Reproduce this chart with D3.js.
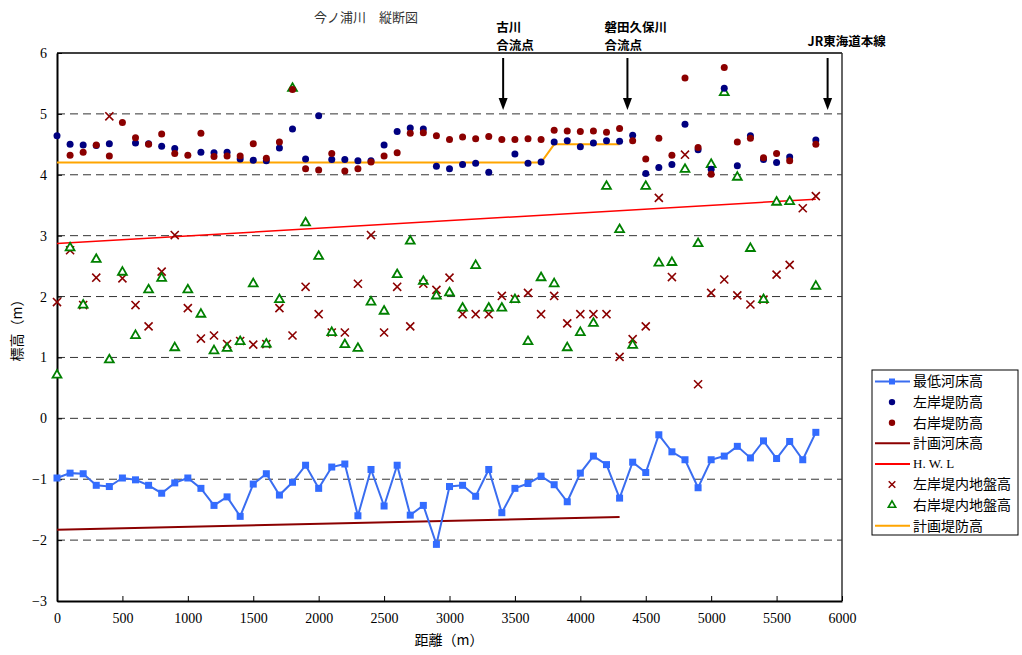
<!DOCTYPE html>
<html>
<head>
<meta charset="utf-8">
<script src="https://cdn.jsdelivr.net/npm/d3@7"></script>
<style>
  body { margin: 0; background: #fff; }
  svg text { font-family: "Liberation Serif", "Noto Sans CJK JP", serif; }
  .jp { font-family: "Noto Sans CJK JP", sans-serif; }
</style>
</head>
<body>
<div id="chart"></div>
<script>
// 距離 (m)
const distances = [0, 100, 200, 300, 400, 500, 600, 700, 800, 900,
  1000, 1100, 1200, 1300, 1400, 1500, 1600, 1700, 1800, 1900,
  2000, 2100, 2200, 2300, 2400, 2500, 2600, 2700, 2800, 2900,
  3000, 3100, 3200, 3300, 3400, 3500, 3600, 3700, 3800, 3900,
  4000, 4100, 4200, 4300, 4400, 4500, 4600, 4700, 4800, 4900,
  5000, 5100, 5200, 5300, 5400, 5500, 5600, 5700, 5800];

// 最低河床高
const bedMin = [-0.98, -0.90, -0.91, -1.10, -1.12, -0.98, -1.01, -1.10, -1.23, -1.06,
  -0.98, -1.15, -1.43, -1.29, -1.61, -1.08, -0.91, -1.26, -1.05, -0.77,
  -1.15, -0.80, -0.75, -1.60, -0.84, -1.44, -0.77, -1.59, -1.43, -2.07,
  -1.12, -1.10, -1.28, -0.84, -1.55, -1.15, -1.07, -0.95, -1.09, -1.37,
  -0.90, -0.62, -0.76, -1.31, -0.72, -0.89, -0.27, -0.55, -0.68, -1.14,
  -0.68, -0.62, -0.46, -0.65, -0.37, -0.66, -0.38, -0.68, -0.23];

// 左岸堤防高
const leftLevee = [4.64, 4.50, 4.49, 4.48, 4.51, null, 4.52, 4.51, 4.47, 4.43,
  null, 4.37, 4.36, 4.37, 4.26, 4.24, 4.23, 4.44, 4.75, 4.26,
  4.97, 4.25, 4.25, 4.23, 4.23, 4.49, 4.71, 4.77, 4.75, 4.14,
  4.10, 4.17, 4.19, 4.04, null, 4.34, 4.19, 4.21, 4.54, 4.56,
  4.46, 4.52, 4.56, 4.55, 4.65, 4.02, 4.12, 4.17, 4.83, 4.41,
  4.09, 5.42, 4.15, 4.64, 4.25, 4.20, 4.29, null, 4.57];

// 右岸堤防高
const rightLevee = [null, 4.32, 4.37, 4.49, 4.31, 4.86, 4.61, 4.50, 4.67, 4.35,
  4.32, 4.68, 4.30, 4.31, 4.31, 4.51, 4.27, 4.54, 5.40, 4.10,
  4.08, 4.35, 4.06, 4.10, 4.21, 4.31, 4.36, 4.68, 4.69, 4.64,
  4.58, 4.62, 4.59, 4.63, 4.58, 4.58, 4.59, 4.58, 4.73, 4.72,
  4.71, 4.72, 4.70, 4.76, 4.56, 4.26, 4.60, 4.32, 5.59, 4.45,
  4.01, 5.76, 4.54, 4.60, 4.28, 4.35, 4.23, null, 4.50];

// 左岸堤内地盤高
const leftInland = [1.91, 2.76, 1.86, 2.31, 4.96, 2.30, 1.86, 1.51, 2.41, 3.01,
  1.81, 1.31, 1.36, 1.22, 1.27, 1.21, 1.22, 1.81, 1.36, 2.16,
  1.71, 1.41, 1.41, 2.21, 3.01, 1.41, 2.16, 1.51, 2.21, 2.11,
  2.31, 1.71, 1.71, 1.71, 2.01, 1.96, 2.06, 1.71, 2.01, 1.56,
  1.71, 1.71, 1.71, 1.01, 1.30, 1.51, 3.62, 2.32, 4.33, 0.56,
  2.06, 2.28, 2.02, 1.87, 1.95, 2.36, 2.52, 3.45, 3.65];

// 右岸堤内地盤高
const rightInland = [0.71, 2.80, 1.86, 2.61, 0.96, 2.40, 1.36, 2.11, 2.30, 1.16,
  2.11, 1.71, 1.11, 1.15, 1.26, 2.21, 1.22, 1.95, 5.42, 3.21,
  2.66, 1.41, 1.21, 1.15, 1.91, 1.76, 2.36, 2.91, 2.25, 2.01,
  2.06, 1.81, 2.51, 1.81, 1.81, 1.95, 1.26, 2.31, 2.21, 1.16,
  1.41, 1.56, 3.81, 3.10, 1.20, 3.81, 2.55, 2.56, 4.09, 2.87,
  4.17, 5.35, 3.96, 2.79, 1.95, 3.55, 3.56, null, 2.17];

// 計画河床高
const planBedX = [0, 4300];
const planBedY = [-1.83, -1.62];
// H.W.L
const hwlX = [0, 5800];
const hwlY = [2.87, 3.60];
// 計画堤防高
const planLeveeX = [0, 3700, 3800, 4300];
const planLeveeY = [4.20, 4.20, 4.50, 4.50];

// 注記
const noteNames = [["古川", "合流点"], ["磐田久保川", "合流点"], ["JR東海道本線"]];
const noteDist = [3410, 4360, 5890];

const xTicks = [0, 500, 1000, 1500, 2000, 2500, 3000, 3500, 4000, 4500, 5000, 5500, 6000];
const yTicks = [-3, -2, -1, 0, 1, 2, 3, 4, 5, 6];

const W = 1022, H = 655;
const svg = d3.select('#chart').append('svg')
  .attr('width', W).attr('height', H);

const x = d3.scaleLinear().domain([0, 6000]).range([57, 842]);
const y = d3.scaleLinear().domain([-3, 6]).range([601, 53]);

// グリッド
svg.append('g').selectAll('line')
  .data(yTicks.filter(v => v > -3 && v < 6))
  .enter().append('line')
  .attr('x1', x(0)).attr('x2', x(6000))
  .attr('y1', d => y(d)).attr('y2', d => y(d))
  .attr('stroke', '#333').attr('stroke-width', 1)
  .attr('stroke-dasharray', '8,5');

// 枠
svg.append('line').attr('x1', x(0)).attr('x2', x(6000)).attr('y1', y(6)).attr('y2', y(6))
  .attr('stroke', '#000').attr('stroke-width', 1.5);
svg.append('line').attr('x1', x(6000)).attr('x2', x(6000)).attr('y1', y(6)).attr('y2', y(-3))
  .attr('stroke', '#333').attr('stroke-width', 1.5);

// 軸
const xAxis = svg.append('g').attr('transform', `translate(0,${y(-3)})`)
  .call(d3.axisBottom(x).tickValues(xTicks).tickFormat(d3.format('d'))
    .tickSizeInner(-5).tickSizeOuter(0).tickPadding(12));
const yAxis = svg.append('g').attr('transform', `translate(${x(0)},0)`)
  .call(d3.axisLeft(y).tickValues(yTicks).tickFormat(d3.format('d'))
    .tickSizeInner(-5).tickSizeOuter(0).tickPadding(10));
[xAxis, yAxis].forEach(g => {
  g.select('.domain').attr('stroke', '#000').attr('stroke-width', 2);
  g.selectAll('.tick line').attr('stroke', '#000');
  g.selectAll('.tick text').attr('font-family', '"Liberation Serif", serif')
    .attr('font-size', 14).attr('fill', '#000');
});

// 線
const line = d3.line().defined(d => d[1] != null).x(d => x(d[0])).y(d => y(d[1]));
svg.append('path').datum(d3.zip(planBedX, planBedY))
  .attr('d', line).attr('fill', 'none').attr('stroke', '#8b0000').attr('stroke-width', 2);
svg.append('path').datum(d3.zip(hwlX, hwlY))
  .attr('d', line).attr('fill', 'none').attr('stroke', '#ff0000').attr('stroke-width', 1.5);
svg.append('path').datum(d3.zip(planLeveeX, planLeveeY))
  .attr('d', line).attr('fill', 'none').attr('stroke', '#ffa500').attr('stroke-width', 2);

// 最低河床高
const bedPts = d3.zip(distances, bedMin);
svg.append('path').datum(bedPts)
  .attr('d', line).attr('fill', 'none').attr('stroke', '#3a6df0').attr('stroke-width', 2);
svg.append('g').selectAll('rect').data(bedPts).enter().append('rect')
  .attr('x', d => x(d[0]) - 3.5).attr('y', d => y(d[1]) - 3.5)
  .attr('width', 7).attr('height', 7).attr('fill', '#336cff');

// 左岸堤内地盤高 (×)
const cross = d3.symbol().type(d3.symbolX).size(44);
svg.append('g').selectAll('path')
  .data(d3.zip(distances, leftInland).filter(d => d[1] != null))
  .enter().append('path')
  .attr('d', cross)
  .attr('transform', d => `translate(${x(d[0])},${y(d[1])})`)
  .attr('fill', 'none').attr('stroke', '#8b0000').attr('stroke-width', 1.6);

// 右岸堤内地盤高 (△)
const tri = d3.symbol().type(d3.symbolTriangle).size(34);
svg.append('g').selectAll('path')
  .data(d3.zip(distances, rightInland).filter(d => d[1] != null))
  .enter().append('path')
  .attr('d', tri)
  .attr('transform', d => `translate(${x(d[0])},${y(d[1])})`)
  .attr('fill', '#fff').attr('stroke', '#008000').attr('stroke-width', 1.8);

// 左岸堤防高
svg.append('g').selectAll('circle')
  .data(d3.zip(distances, leftLevee).filter(d => d[1] != null))
  .enter().append('circle')
  .attr('cx', d => x(d[0])).attr('cy', d => y(d[1])).attr('r', 3.5)
  .attr('fill', '#000080');

// 右岸堤防高
svg.append('g').selectAll('circle')
  .data(d3.zip(distances, rightLevee).filter(d => d[1] != null))
  .enter().append('circle')
  .attr('cx', d => x(d[0])).attr('cy', d => y(d[1])).attr('r', 3.5)
  .attr('fill', '#8b0000');

// 注記と矢印 (ラベルの左端は矢印からずらす)
const labelShift = [-7, -23, -20];
const notes = svg.append('g').selectAll('g')
  .data(d3.zip(noteNames, noteDist, labelShift)).enter().append('g');
notes.append('line')
  .attr('x1', d => x(d[1])).attr('x2', d => x(d[1]))
  .attr('y1', 58).attr('y2', 100)
  .attr('stroke', '#000').attr('stroke-width', 2);
notes.append('path')
  .attr('d', d => `M${x(d[1]) - 4.5},98 L${x(d[1]) + 4.5},98 L${x(d[1])},110 Z`)
  .attr('fill', '#000');
notes.each(function(d) {
  const g = d3.select(this);
  const n = d[0].length;
  d[0].forEach((t, i) => {
    g.append('text').attr('class', 'jp')
      .attr('font-size', 12.5).attr('font-weight', 'bold')
      .attr('x', x(d[1]) + d[2])
      .attr('y', n === 1 ? 46 : 31.5 + i * 18.2)
      .text(t);
  });
});

// タイトル・軸ラベル
svg.append('text').attr('class', 'jp')
  .attr('x', 366).attr('y', 22).attr('text-anchor', 'middle')
  .attr('font-size', 13).attr('fill', '#333')
  .text('今ノ浦川　縦断図');
svg.append('text').attr('class', 'jp')
  .attr('x', 449).attr('y', 645).attr('text-anchor', 'middle')
  .attr('font-size', 14)
  .text('距離（m）');
svg.append('text').attr('class', 'jp')
  .attr('transform', 'translate(22,327) rotate(-90)')
  .attr('text-anchor', 'middle').attr('font-size', 14)
  .text('標高（m）');

// 凡例
const legendNames = ['最低河床高', '左岸堤防高', '右岸堤防高', '計画河床高', 'H.W.L', '左岸堤内地盤高', '右岸堤内地盤高', '計画堤防高'];
const legendKinds = ['lineSquare', 'dotNavy', 'dotRed', 'lineDark', 'lineRed', 'cross', 'tri', 'lineOrange'];
const lg = svg.append('g');
lg.append('rect').attr('x', 872).attr('y', 370).attr('width', 146).attr('height', 165)
  .attr('fill', '#fff').attr('stroke', '#000').attr('stroke-width', 1);
const rows = lg.selectAll('g.row').data(d3.zip(legendNames, legendKinds)).enter()
  .append('g').attr('class', 'row')
  .attr('transform', (d, i) => `translate(0,${381.5 + i * 20.6})`);
rows.each(function(d) {
  const g = d3.select(this);
  const k = d[1];
  if (k.startsWith('line')) {
    const c = { lineSquare: '#3a6df0', lineDark: '#8b0000', lineRed: '#ff0000', lineOrange: '#ffa500' }[k];
    g.append('line').attr('x1', 875).attr('x2', 910).attr('y1', 0).attr('y2', 0)
      .attr('stroke', c).attr('stroke-width', 2);
    if (k === 'lineSquare') g.append('rect').attr('x', 889).attr('y', -3).attr('width', 6).attr('height', 6).attr('fill', '#336cff');
  } else if (k === 'dotNavy' || k === 'dotRed') {
    g.append('circle').attr('cx', 892).attr('cy', 0).attr('r', 3.2)
      .attr('fill', k === 'dotNavy' ? '#000080' : '#8b0000');
  } else if (k === 'cross') {
    g.append('path').attr('d', d3.symbol().type(d3.symbolX).size(30)).attr('transform', 'translate(892,0)')
      .attr('fill', 'none').attr('stroke', '#8b0000').attr('stroke-width', 1.5);
  } else {
    g.append('path').attr('d', d3.symbol().type(d3.symbolTriangle).size(24)).attr('transform', 'translate(892,0)')
      .attr('fill', '#fff').attr('stroke', '#008000').attr('stroke-width', 1.6);
  }
  g.append('text').attr('class', d[0] === 'H.W.L' ? '' : 'jp')
    .attr('x', 913).attr('y', 0).attr('dy', '0.35em')
    .attr('font-size', d[0] === 'H.W.L' ? 13 : 14)
    .text(d[0] === 'H.W.L' ? 'H. W. L' : d[0]);
});
</script>
</body>
</html>
